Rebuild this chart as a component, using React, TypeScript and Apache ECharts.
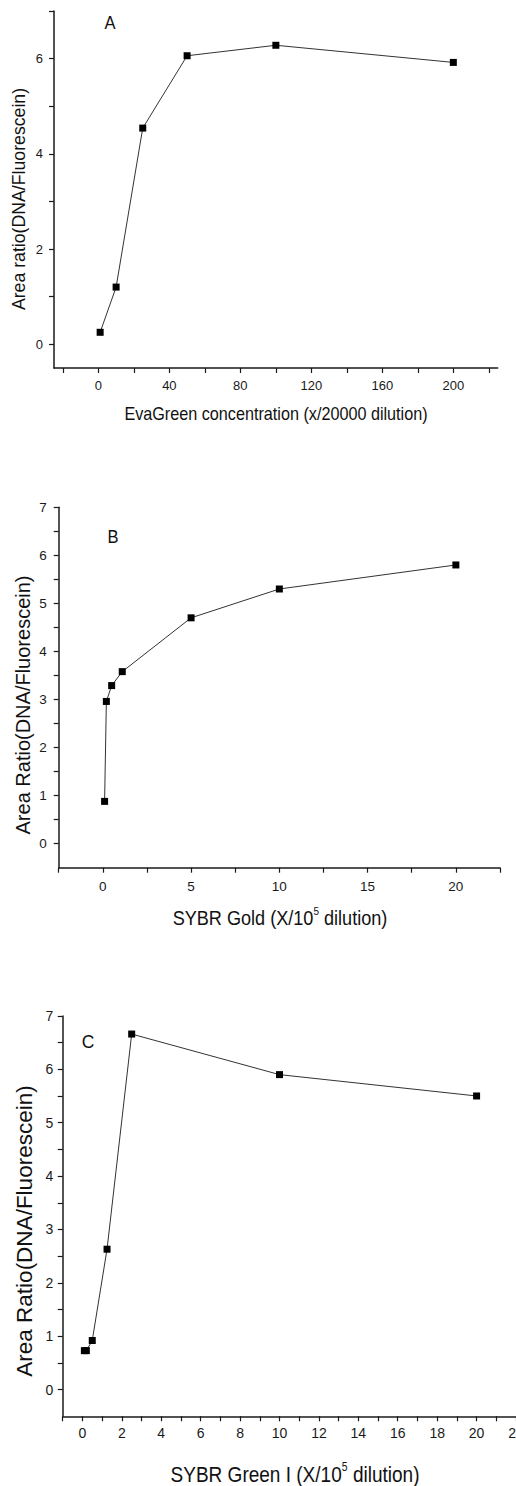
import React, { useEffect, useRef } from "react";
import * as echarts from "echarts";

// ---- Panel A: EvaGreen ----
const evaGreenX = [1, 10, 25, 50, 100, 200];
const evaGreenY = [0.25, 1.2, 4.54, 6.06, 6.28, 5.92];
const evaXTicks = [-20, 0, 20, 40, 60, 80, 100, 120, 140, 160, 180, 200, 220];
const evaXLabels = [0, 40, 80, 120, 160, 200];
const evaYTicks = [0, 1, 2, 3, 4, 5, 6, 7];
const evaYLabels = [0, 2, 4, 6];

// ---- Panel B: SYBR Gold ----
const goldX = [0.1, 0.2, 0.5, 1.1, 5, 10, 20];
const goldY = [0.88, 2.96, 3.29, 3.58, 4.7, 5.3, 5.8];
const goldXTicks = [-2.5, 0, 2.5, 5, 7.5, 10, 12.5, 15, 17.5, 20, 22.5];
const goldXLabels = [0, 5, 10, 15, 20];

// ---- Panel C: SYBR Green I ----
const greenX = [0.1, 0.2, 0.5, 1.25, 2.5, 10, 20];
const greenY = [0.73, 0.73, 0.92, 2.63, 6.66, 5.9, 5.5];
const greenXTicks = [-1, 0, 1, 2, 3, 4, 5, 6, 7, 8, 9, 10, 11, 12, 13, 14, 15, 16, 17, 18, 19, 20, 21, 22];
const greenXLabels = [0, 2, 4, 6, 8, 10, 12, 14, 16, 18, 20, 22];

// shared y ticks for B and C
const halfYTicks = [0, 0.5, 1, 1.5, 2, 2.5, 3, 3.5, 4, 4.5, 5, 5.5, 6, 6.5, 7];
const unitYLabels = [0, 1, 2, 3, 4, 5, 6, 7];

const FONT = "'Liberation Sans', Arial, sans-serif";
const AX = "#1a1a1a";

function xAxis(gridIndex: number, min: number, max: number, ticks: number[], labels: number[], fontSize: number, margin: number) {
  return {
    gridIndex,
    type: "value",
    min,
    max,
    axisLine: { show: true, onZero: false, lineStyle: { color: AX, width: 1.5 } },
    axisTick: { show: true, inside: false, length: 5, customValues: ticks, lineStyle: { color: AX, width: 1.2 } },
    axisLabel: { customValues: labels, fontSize, color: AX, margin, fontFamily: FONT, hideOverlap: false },
    splitLine: { show: false },
  };
}

function yAxis(gridIndex: number, ticks: number[], labels: number[], fontSize: number, margin: number) {
  return {
    gridIndex,
    type: "value",
    min: -0.5,
    max: 7,
    axisLine: { show: true, onZero: false, lineStyle: { color: AX, width: 1.5 } },
    axisTick: { show: true, inside: false, length: 5, customValues: ticks, lineStyle: { color: AX, width: 1.2 } },
    axisLabel: { customValues: labels, fontSize, color: AX, margin, fontFamily: FONT },
    splitLine: { show: false },
  };
}

function series(idx: number, xs: number[], ys: number[]) {
  return {
    type: "line",
    xAxisIndex: idx,
    yAxisIndex: idx,
    data: xs.map((x, i) => [x, ys[i]]),
    symbol: "rect",
    symbolSize: 7,
    itemStyle: { color: "#000" },
    lineStyle: { color: "#333", width: 1 },
    z: 3,
  };
}

function txt(text: string, x: number, y: number, fontSize: number, opts: any = {}) {
  return {
    type: "text",
    x,
    y,
    rotation: opts.rotation || 0,
    scaleX: opts.scaleX || 1,
    scaleY: 1,
    style: {
      text,
      fontSize,
      fontFamily: FONT,
      fill: "#111",
      align: "center",
      verticalAlign: "middle",
      textAlign: "center",
      textVerticalAlign: "middle",
      rich: opts.rich,
    },
  };
}

const supRich = (fs: number) => ({
  n: { fontSize: fs, fontFamily: FONT, fill: "#111", lineHeight: fs * 1.2, verticalAlign: "middle" },
  sup: { fontSize: Math.round(fs * 0.55), fontFamily: FONT, fill: "#111", lineHeight: Math.round(fs * 0.6), verticalAlign: "top" },
});

export default function App() {
  const ref = useRef<HTMLDivElement>(null);
  useEffect(() => {
    if (!ref.current) return;
    const chart = echarts.init(ref.current, null, { renderer: "svg" });
    const option = {
      animation: false,
      backgroundColor: "#fff",
      grid: [
        { left: 54, top: 11, width: 443.7, height: 357, outerBoundsMode: "none", containLabel: false },
        { left: 58.7, top: 507.3, width: 441.3, height: 360.4, outerBoundsMode: "none", containLabel: false },
        { left: 62.7, top: 1015.9, width: 453.3, height: 400.4, outerBoundsMode: "none", containLabel: false },
      ],
      xAxis: [
        xAxis(0, -25, 225, evaXTicks, evaXLabels, 13, 11),
        xAxis(1, -2.5, 22.5, goldXTicks, goldXLabels, 13.5, 12),
        xAxis(2, -1, 22, greenXTicks, greenXLabels, 14, 10),
      ],
      yAxis: [
        yAxis(0, evaYTicks, evaYLabels, 13, 11),
        yAxis(1, halfYTicks, unitYLabels, 13.5, 12),
        yAxis(2, halfYTicks, unitYLabels, 14, 9.5),
      ],
      series: [series(0, evaGreenX, evaGreenY), series(1, goldX, goldY), series(2, greenX, greenY)],
      graphic: [
        txt("A", 110, 23, 18, { scaleX: 0.92 }),
        txt("B", 113, 537, 18, { scaleX: 0.92 }),
        txt("C", 88, 1041, 19, { scaleX: 0.92 }),
        txt("EvaGreen concentration (x/20000 dilution)", 276, 414, 18, { scaleX: 0.9 }),
        txt("Area ratio(DNA/Fluorescein)", 19, 199, 17.7, { rotation: Math.PI / 2 }),
        txt("{n|SYBR Gold (X/10}{sup|5}{n| dilution)}", 280, 918, 20, { scaleX: 0.905, rich: supRich(20) }),
        txt("Area Ratio(DNA/Fluorescein)", 23, 705, 20, { rotation: Math.PI / 2 }),
        txt("{n|SYBR Green I (X/10}{sup|5}{n| dilution)}", 295, 1474, 22, { scaleX: 0.865, rich: supRich(22) }),
        txt("Area Ratio(DNA/Fluorescein)", 24, 1231, 22.5, { rotation: Math.PI / 2 }),
      ],
    };
    chart.setOption(option as any);
    return () => chart.dispose();
  }, []);
  return (
    <div
      ref={ref}
      style={{ position: "absolute", left: 0, top: 0, width: 516, height: 1486, background: "#fff" }}
    />
  );
}
